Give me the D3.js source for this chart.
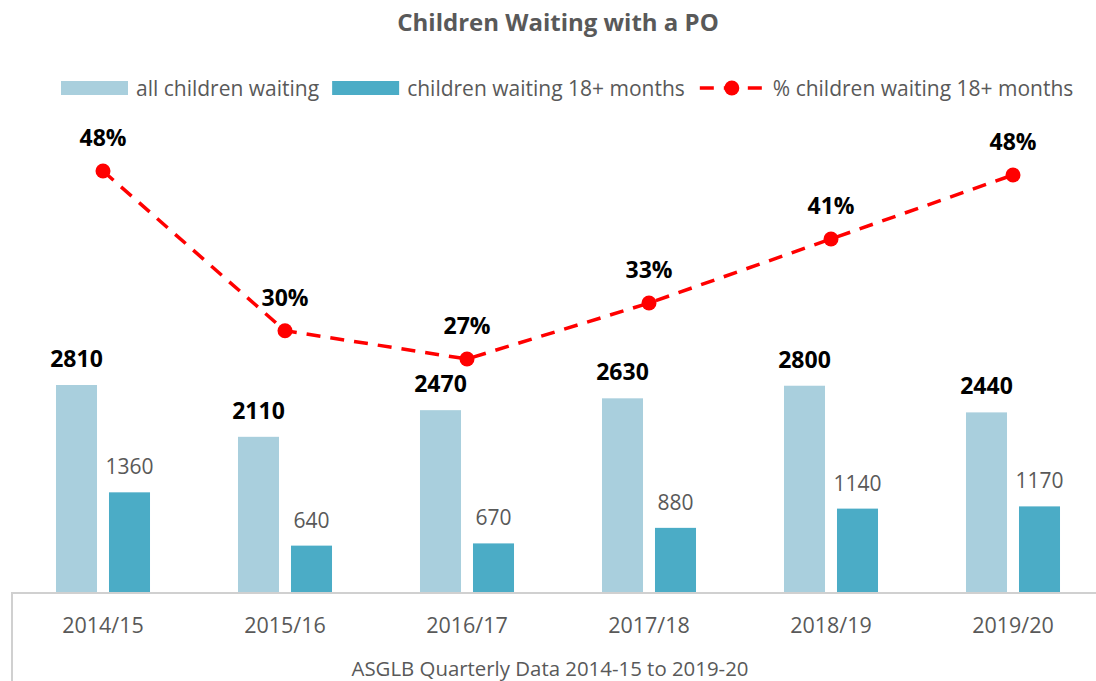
<!DOCTYPE html>
<html lang="en">
<head>
<script src="https://d3js.org/d3.v7.min.js"></script>
<style>
  body { margin: 0; background: #fff; }
  text { font-family: "Open Sans", sans-serif; }
</style>
</head>
<body>
<script>
// data
var years = ["2014/15", "2015/16", "2016/17", "2017/18", "2018/19", "2019/20"];
var allWaiting = [2810, 2110, 2470, 2630, 2800, 2440];
var longWaiting = [1360, 640, 670, 880, 1140, 1170];
var pctLong = [48.4, 30.33, 27.13, 33.46, 40.71, 47.95];

const W = 1096, H = 681;
const svg = d3.select("body").append("svg")
  .attr("width", W).attr("height", H);

// plot area
const left = 12, baseY = 593;
var x = d3.scaleBand().domain(years).range([left, left + 182 * 6]).padding(0);
var inner = d3.scaleBand().domain(["all", "long"]).range([0, x.bandwidth()])
  .paddingInner(0.226).paddingOuter(0.83);
var y = d3.scaleLinear().domain([0, 2810]).range([baseY, 385]);
var yp = d3.scaleLinear().domain([27.13, 48.4]).range([359, 171]);

const cLight = "#a9cfdd", cDark = "#4bacc6", gray = "#595959";

// title
svg.append("text")
  .attr("x", 558).attr("y", 31)
  .attr("text-anchor", "middle")
  .attr("font-size", 24).attr("font-weight", "bold")
  .attr("fill", gray)
  .text("Children Waiting with a PO");

// bars
var g = svg.selectAll(".grp").data(years).enter().append("g")
  .attr("transform", d => "translate(" + x(d) + ",0)");

g.append("rect")
  .attr("x", inner("all")).attr("width", inner.bandwidth())
  .attr("y", (d, i) => y(allWaiting[i]))
  .attr("height", (d, i) => baseY - y(allWaiting[i]))
  .attr("fill", cLight);

g.append("rect")
  .attr("x", inner("long")).attr("width", inner.bandwidth())
  .attr("y", (d, i) => y(longWaiting[i]))
  .attr("height", (d, i) => baseY - y(longWaiting[i]))
  .attr("fill", cDark);

g.append("text")
  .attr("x", inner("all") + inner.bandwidth() / 2)
  .attr("y", (d, i) => y(allWaiting[i]) - 18)
  .attr("text-anchor", "middle")
  .attr("font-size", 23).attr("font-weight", "bold").attr("fill", "#000")
  .text((d, i) => allWaiting[i]);

g.append("text")
  .attr("x", inner("long") + inner.bandwidth() / 2)
  .attr("y", (d, i) => y(longWaiting[i]) - 18)
  .attr("text-anchor", "middle")
  .attr("font-size", 21).attr("fill", gray)
  .text((d, i) => longWaiting[i]);

// axis line and frame
svg.append("path")
  .attr("d", "M" + left + "," + H + "V" + baseY + "H" + W)
  .attr("fill", "none").attr("stroke", "#d0d0d0").attr("stroke-width", 2);

svg.selectAll(".xl").data(years).enter().append("text")
  .attr("x", d => x(d) + x.bandwidth() / 2)
  .attr("y", 633)
  .attr("text-anchor", "middle")
  .attr("font-size", 21.5).attr("fill", gray)
  .text(d => d);

svg.append("text")
  .attr("x", 550).attr("y", 676)
  .attr("text-anchor", "middle")
  .attr("font-size", 20.4).attr("fill", gray)
  .text("ASGLB Quarterly Data 2014-15 to 2019-20");

// percentage line
var line = d3.line()
  .x((d, i) => x(years[i]) + x.bandwidth() / 2)
  .y(d => yp(d));

svg.append("path")
  .datum(pctLong)
  .attr("d", line)
  .attr("fill", "none").attr("stroke", "#ff0000")
  .attr("stroke-width", 3.5).attr("stroke-dasharray", "14,10");

svg.selectAll(".pt").data(pctLong).enter().append("circle")
  .attr("cx", (d, i) => x(years[i]) + x.bandwidth() / 2)
  .attr("cy", d => yp(d)).attr("r", 7.5)
  .attr("fill", "#ff0000");

svg.selectAll(".pl").data(pctLong).enter().append("text")
  .attr("x", (d, i) => x(years[i]) + x.bandwidth() / 2)
  .attr("y", d => yp(d) - 25)
  .attr("text-anchor", "middle")
  .attr("font-size", 23).attr("font-weight", "bold").attr("fill", "#000")
  .text(d => Math.round(d) + "%");

// legend
var legend = svg.append("g").attr("transform", "translate(61,88)");
var items = [
  { label: "all children waiting", type: "rect", color: cLight },
  { label: "children waiting 18+ months", type: "rect", color: cDark },
  { label: "% children waiting 18+ months", type: "line", color: "#ff0000" }
];
var lx = 0;
items.forEach(function(it) {
  if (it.type === "rect") {
    legend.append("rect").attr("x", lx).attr("y", -7)
      .attr("width", 67).attr("height", 14).attr("fill", it.color);
  } else {
    legend.append("line").attr("x1", lx).attr("x2", lx + 67)
      .attr("y1", 0).attr("y2", 0)
      .attr("stroke", it.color).attr("stroke-width", 3.5)
      .attr("stroke-dasharray", "14,10").attr("stroke-dashoffset", -2);
    legend.append("circle").attr("cx", lx + 34).attr("cy", 0)
      .attr("r", 7.5).attr("fill", it.color);
  }
  var t = legend.append("text").attr("x", lx + 75).attr("y", 7.5)
    .attr("font-size", 21).attr("fill", gray).text(it.label);
  lx += 75 + t.node().getComputedTextLength() + 13;
});
</script>
</body>
</html>
